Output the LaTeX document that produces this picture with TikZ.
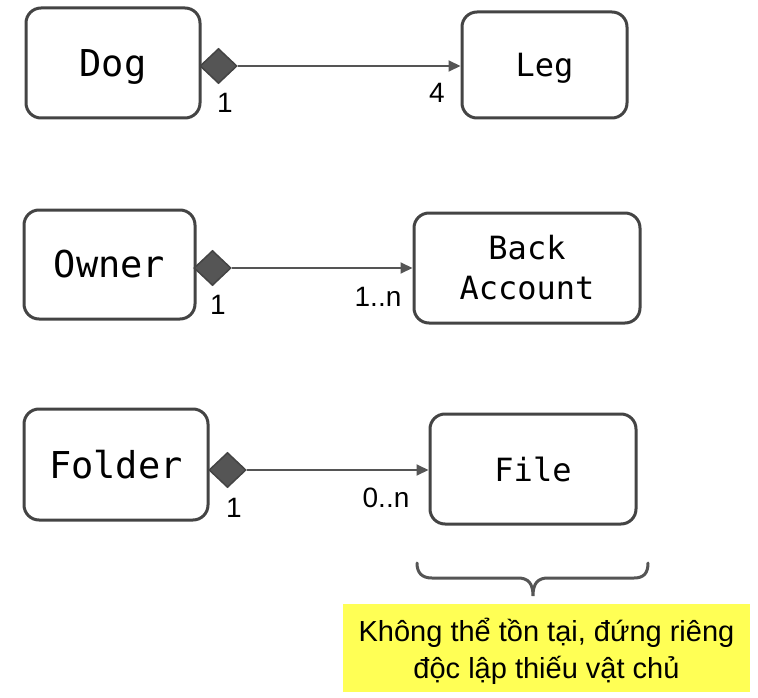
\documentclass[tikz,border=0pt]{standalone}
\usepackage{fontspec}
\setmainfont{Liberation Sans}
\newfontfamily\boxfont{DejaVu Sans Mono}
\usetikzlibrary{shapes.geometric,arrows.meta}
\definecolor{edgec}{HTML}{444444}
\definecolor{linec}{HTML}{555555}
\definecolor{noteyellow}{HTML}{FFFF55}
\tikzset{
  cls/.style={draw=edgec, line width=3pt, rounded corners=15pt, fill=white, inner sep=0pt, align=center, font=\boxfont\fontsize{37}{40}\selectfont},
  clsr/.style={cls, font=\boxfont\fontsize{32}{40}\selectfont},
  comp/.style={diamond, draw=edgec, fill=linec, line width=1.5pt, minimum width=37pt, minimum height=35pt, inner sep=0pt},
  assoc/.style={draw=linec, line width=2pt, -{Triangle[length=12pt,width=11pt]}},
  mult/.style={font=\fontsize{28}{30}\selectfont, inner sep=0pt},
  note/.style={fill=noteyellow, align=center, inner sep=0pt, font=\fontsize{29}{37}\selectfont},
  bracec/.style={draw=linec, line width=3pt, line cap=round}
}
\begin{document}
\begin{tikzpicture}[x=1pt,y=-1pt]
\useasboundingbox (0,0) rectangle (758,698);
% row 1
\node[cls, minimum width=174pt, minimum height=110pt, text depth=0pt] (dog) at (113,63) {Dog};
\node[clsr, minimum width=165pt, minimum height=106pt, text depth=0pt] (leg) at (544.5,65) {Leg};
\node[comp] (d1) at (218.5,66) {};
\draw[assoc] (d1.east) -- (d1.east -| leg.west);
\node[mult] (m1a) at (225,103) {1};
\node[mult] (m1b) at (437,93) {4};
% row 2
\node[cls, minimum width=171pt, minimum height=109pt] (owner) at (109.5,264.5) {Owner};
\node[clsr, minimum width=226pt, minimum height=110pt] (bank) at (527,268) {Back\\Account};
\node[comp] (d2) at (212.5,268) {};
\draw[assoc] (d2.east) -- (d2.east -| bank.west);
\node[mult] (m2a) at (218,305) {1};
\node[mult] (m2b) at (378,297) {1..n};
% row 3
\node[cls, minimum width=184pt, minimum height=111pt] (folder) at (116,464.5) {Folder};
\node[clsr, minimum width=206pt, minimum height=110pt] (file) at (533,469) {File};
\node[comp] (d3) at (227.5,470) {};
\draw[assoc] (d3.east) -- (d3.east -| file.west);
\node[mult] (m3a) at (234,508) {1};
\node[mult] (m3b) at (386,498) {0..n};
% brace
\coordinate (bl) at (417,563);
\coordinate (br) at (648,563);
\coordinate (bt) at (533,596);
\draw[bracec] (bl) .. controls (417,573) and (422,578) .. (432,578) -- (518,578)
  .. controls (528,578) and (533,583) .. (bt)
  .. controls (533,583) and (538,578) .. (548,578) -- (634,578)
  .. controls (644,578) and (648,573) .. (br);
% note
\fill[noteyellow] (343,604) rectangle (750,692);
\node[note] (nt) at (546.5,651) {Không thể tồn tại, đứng riêng\\độc lập thiếu vật chủ};
\end{tikzpicture}
\end{document}
